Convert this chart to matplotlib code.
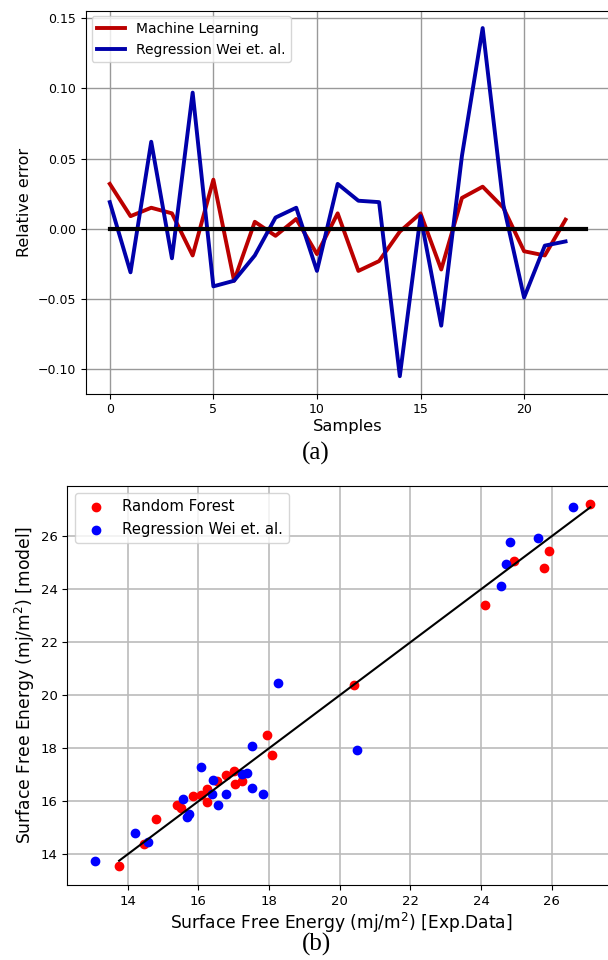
import numpy as np
import matplotlib
matplotlib.use('Agg')
import matplotlib.pyplot as plt

# (a) relative error per sample
samples = list(range(23))
ml_err = [0.032, 0.009, 0.015, 0.011, -0.019, 0.035, -0.037, 0.005, -0.005, 0.007,
          -0.018, 0.011, -0.030, -0.023, -0.002, 0.011, -0.029, 0.022, 0.030, 0.015,
          -0.016, -0.019, 0.0065]
wei_err = [0.019, -0.031, 0.062, -0.021, 0.097, -0.041, -0.037, -0.019, 0.008, 0.015,
           -0.030, 0.032, 0.020, 0.019, -0.105, 0.009, -0.069, 0.052, 0.143, 0.017,
           -0.049, -0.012, -0.009]

# (b) surface free energy, experiment vs model
rf_exp = [13.76, 14.47, 14.80, 15.39, 15.52, 15.86, 16.09, 16.25, 16.25, 16.52, 16.77,
          17.01, 17.05, 17.25, 17.93, 18.08, 20.41, 24.10, 24.92, 25.77, 25.93, 27.09]
rf_model = [13.56, 14.39, 15.32, 15.87, 15.74, 16.21, 16.24, 16.46, 15.97, 16.75, 16.98,
            17.15, 16.65, 16.77, 18.49, 17.76, 20.40, 23.39, 25.06, 24.79, 25.44, 27.20]
wei_exp = [13.08, 14.21, 14.59, 15.58, 15.67, 15.73, 16.08, 16.42, 16.39, 16.56, 16.77,
           17.25, 17.37, 17.53, 17.52, 17.82, 18.26, 20.50, 24.82, 25.62, 24.69, 24.57, 26.60]
wei_model = [13.76, 14.81, 14.48, 16.09, 15.39, 15.51, 17.28, 16.80, 16.27, 15.85, 16.28,
             17.04, 17.06, 18.10, 16.52, 16.27, 20.45, 17.94, 25.78, 25.94, 24.94, 24.11, 27.09]

fig = plt.figure(figsize=(6.08, 9.6), dpi=100)

# top panel
ax1 = fig.add_axes([0.1414, 0.59, 0.862, 0.3989])
ax1.plot(samples, ml_err, color='#bb0000', lw=2.8, label='Machine Learning')
ax1.plot(samples, wei_err, color='#0000aa', lw=2.8, label='Regression Wei et. al.')
ax1.plot([samples[0], samples[-1] + 1], [0, 0], color='black', lw=3)
ax1.set_xticks([0, 5, 10, 15, 20])
ax1.set_yticks([-0.10, -0.05, 0.0, 0.05, 0.10, 0.15])
ax1.tick_params(labelsize=9)
ax1.grid(True, color='#999999', lw=1)
ax1.set_xlabel('Samples', fontsize=11.7, labelpad=2)
ax1.set_ylabel('Relative error', fontsize=11.5)
ax1.legend(loc='upper left', fontsize=10, handlelength=2, borderaxespad=0.4)

# bottom panel
ax2 = fig.add_axes([0.111, 0.078, 0.9013, 0.416])
ax2.scatter(rf_exp, rf_model, color='red', s=36, label='Random Forest', zorder=3)
ax2.scatter(wei_exp, wei_model, color='blue', s=36, label='Regression Wei et. al.', zorder=3)
lo, hi = min(rf_exp), max(rf_exp)
ax2.plot([lo, hi], [lo, hi], color='black', lw=1.5, zorder=4)
ax2.set_xlim(12.3, 27.8)
ax2.set_ylim(12.84, 27.9)
ax2.set_xticks([14, 16, 18, 20, 22, 24, 26])
ax2.set_yticks([14, 16, 18, 20, 22, 24, 26])
ax2.tick_params(labelsize=9.5)
ax2.grid(True, color='#bbbbbb', lw=1.2)
ax2.set_xlabel('Surface Free Energy (mj/m$^2$) [Exp.Data]', fontsize=12.3, labelpad=2)
ax2.set_ylabel('Surface Free Energy (mj/m$^2$) [model]', fontsize=12.3, labelpad=3)
ax2.legend(loc='upper left', fontsize=10.7, borderaxespad=0.5)

serif = ['Liberation Serif', 'DejaVu Serif']
fig.text(0.52, 0.528, '(a)', ha='center', va='center', fontsize=18, family=serif)
fig.text(0.52, 0.016, '(b)', ha='center', va='center', fontsize=18, family=serif)

fig.savefig('out.png', dpi=100)
